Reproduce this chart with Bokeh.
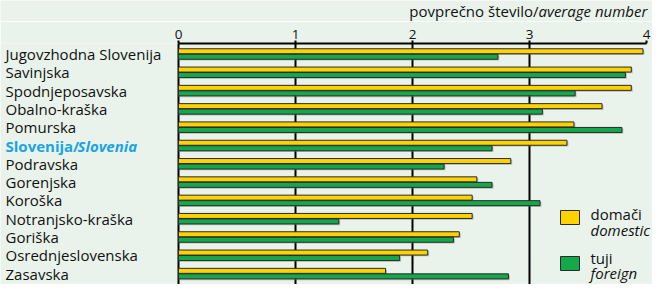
from bokeh.plotting import figure
from bokeh.layouts import column
from bokeh.models import Range1d, FixedTicker, ColumnDataSource
from bokeh.core.properties import value
from bokeh.embed import file_html
from bokeh.resources import INLINE

# ---- data ----
regions = ["Jugovzhodna Slovenija", "Savinjska", "Spodnjeposavska", "Obalno-kraška",
           "Pomurska", "Slovenija/Slovenia", "Podravska", "Gorenjska", "Koroška",
           "Notranjsko-kraška", "Goriška", "Osrednjeslovenska", "Zasavska"]
domestic = [3.97, 3.87, 3.87, 3.62, 3.38, 3.32, 2.84, 2.55, 2.51, 2.51, 2.40, 2.13, 1.77]
foreign = [2.73, 3.82, 3.39, 3.11, 3.79, 2.68, 2.27, 2.68, 3.09, 1.37, 2.35, 1.89, 2.82]
x_ticks = [0, 1, 2, 3, 4]
grid_ticks = [0, 1, 2, 3]
total_label = "Slovenija/Slovenia"
unit_si, unit_en = "povprečno število/", "average number"
legend_si = ["domači", "tuji"]
legend_en = ["domestic", "foreign"]

BG = "#e9f3eb"
YELLOW = "#ffd200"
GREEN = "#15a84b"
BLUE = "#1ca4e0"
INK = "#111111"
FONT = "Open Sans"

W, H, HEAD = 652, 284, 21
# layout helpers (canvas pixels -> data units)
X0, XU = 178.0, 117.0
Y0, YU = 53.5, 18.3
FRAME_TOP = 43
def dx(px):
    return (px - X0) / XU
def dy(py):
    return (Y0 - py) / YU

n = len(regions)
rows = [-i for i in range(n)]
off = 2.75 / YU
sh_y, sh_x = 1.3 / YU, 1.4 / XU
src = ColumnDataSource(dict(
    y=rows,
    yd=[r + off for r in rows],
    yf=[r - off for r in rows],
    yds=[r + off - sh_y for r in rows],
    yfs=[r - off - sh_y for r in rows],
    dom=domestic,
    fo=foreign,
    doms=[v + sh_x for v in domestic],
    fos=[v + sh_x for v in foreign],
))

xr = Range1d(dx(0), dx(W))

p = figure(width=W, height=H - HEAD, output_backend="svg", toolbar_location=None,
           x_range=xr, y_range=Range1d(dy(H), dy(FRAME_TOP)),
           x_axis_location="above", y_axis_location=None,
           min_border_left=0, min_border_right=0, min_border_top=FRAME_TOP - HEAD,
           min_border_bottom=0)
p.background_fill_color = BG
p.border_fill_color = BG
p.outline_line_color = None

ax = p.xaxis[0]
ax.ticker = FixedTicker(ticks=x_ticks)
ax.bounds = (0, 4)
ax.axis_line_color = "black"
ax.axis_line_width = 2
ax.major_tick_in = 0
ax.major_tick_out = 3
ax.major_tick_line_width = 2
ax.minor_tick_line_color = None
ax.major_label_text_font = FONT
ax.major_label_text_font_size = "13.5px"
ax.major_label_text_color = INK
ax.major_label_standoff = 2

p.xgrid.ticker = FixedTicker(ticks=grid_ticks)
p.xgrid.grid_line_color = "black"
p.xgrid.grid_line_width = 2
p.ygrid.visible = False

bh = 5.0 / YU
p.hbar(y="yds", left=0, right="doms", height=bh, source=src,
       fill_color="#6f7f72", fill_alpha=0.45, line_color=None)
p.hbar(y="yfs", left=0, right="fos", height=bh, source=src,
       fill_color="#6f7f72", fill_alpha=0.45, line_color=None)
p.hbar(y="yd", left=0, right="dom", height=bh, source=src,
       fill_color=YELLOW, line_color="#2a2a2a", line_width=1)
p.hbar(y="yf", left=0, right="fo", height=bh, source=src,
       fill_color=GREEN, line_color="#2a2a2a", line_width=1)

# category labels
lab_x = dx(5)
plain_y, plain_t = [], []
for r, name in zip(rows, regions):
    if name == total_label:
        si, en = name.split("/")
        p.text(x=[lab_x], y=[r], text=[si + "/"], text_font=value(FONT),
               text_font_size="15px", text_font_style="bold", text_baseline="middle",
               text_align="left", text_color=BLUE)
        p.text(x=[dx(77)], y=[r], text=[en], text_font=value(FONT),
               text_font_size="15px", text_font_style="bold italic",
               text_baseline="middle", text_align="left", text_color=BLUE)
    else:
        plain_y.append(r)
        plain_t.append(name)
p.text(x=[lab_x] * len(plain_t), y=plain_y, text=plain_t, text_font=value(FONT),
       text_font_size="15px", text_baseline="middle", text_align="left",
       text_color=INK)

# legend (hand drawn)
box_x = dx(569.5)
p.rect(x=[box_x, box_x], y=[dy(217), dy(263)], width=19 / XU, height=14 / YU,
       fill_color=[YELLOW, GREEN], line_color="#2a2a2a", line_width=1)
leg_x = dx(590)
p.text(x=[leg_x, leg_x], y=[dy(213), dy(257)], text=legend_si,
       text_font=value(FONT), text_font_size="15px", text_baseline="middle",
       text_color=INK)
p.text(x=[leg_x, leg_x], y=[dy(229), dy(272)], text=legend_en,
       text_font=value(FONT), text_font_size="15px", text_font_style="italic",
       text_baseline="middle", text_color=INK)

# header strip holding the unit text
head = figure(width=W, height=HEAD, output_backend="svg", toolbar_location=None,
              x_range=xr, y_range=Range1d(0, 1), x_axis_location=None,
              y_axis_location=None, min_border=0)
head.background_fill_color = BG
head.border_fill_color = BG
head.outline_line_color = None
head.xgrid.visible = False
head.ygrid.visible = False
ux = dx(538)
head.text(x=[ux], y=[0.5], text=[unit_si], text_font=value(FONT), text_font_size="15px",
          text_baseline="middle", text_align="right", text_color=INK)
head.text(x=[ux], y=[0.5], text=[unit_en], text_font=value(FONT), text_font_size="15px",
          text_font_style="italic", text_baseline="middle", text_align="left",
          text_color=INK)

layout = column(head, p, spacing=0)
html = file_html(layout, INLINE)
html = html.replace("<body>", '<body style="background:%s;">' % BG, 1)
open("out.html", "w").write(html)
